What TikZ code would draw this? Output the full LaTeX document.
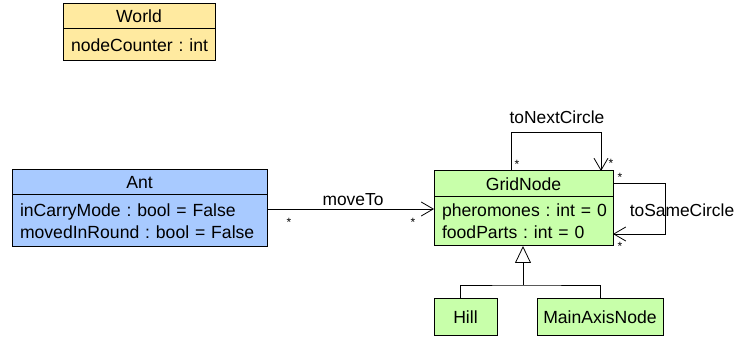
\documentclass[tikz,border=0pt]{standalone}
\usepackage{fontspec}
\setmainfont{Liberation Sans}
\frenchspacing
\usetikzlibrary{arrows.meta}
\definecolor{worldc}{RGB}{255,234,160}
\definecolor{antc}{RGB}{168,202,255}
\definecolor{gridc}{RGB}{200,255,170}
\begin{document}
\frenchspacing
\begin{tikzpicture}[x=1pt,y=-1pt,
  comp/.style={draw, line width=1pt, anchor=north west, inner sep=0pt, outer sep=0pt, font=\fontsize{17.6}{22}\selectfont},
  body/.style={comp, align=left, inner xsep=8pt},
  assoc/.style={line width=0.8pt, -{Straight Barb[length=12pt,width=14pt]}},
  inherit/.style={line width=0.8pt, -{Triangle[open,length=17pt,width=16pt,fill=white]}},
  lbl/.style={font=\fontsize{17.4}{20}\selectfont, inner sep=0pt},
  mult/.style={font=\fontsize{12}{12}\selectfont, inner sep=0pt}]
\useasboundingbox (0,0) rectangle (737,339);
% World
\node[comp, fill=worldc, minimum width=152pt, minimum height=25pt] (wh) at (63,4) {World};
\node[body, fill=worldc, minimum width=152pt, minimum height=32pt, text width=136pt] (wb) at (63,29) {\mbox{nodeCounter : int}};
% Ant
\node[comp, fill=antc, minimum width=255pt, minimum height=25pt] (anth) at (12,170) {Ant};
\node[body, fill=antc, minimum width=255pt, minimum height=52pt, text width=239pt] (antb) at (12,195) {\mbox{inCarryMode : bool = False}\\\mbox{movedInRound : bool = False}};
% GridNode
\node[comp, fill=gridc, minimum width=179pt, minimum height=26pt] (gnh) at (434,171) {GridNode};
\node[body, fill=gridc, minimum width=179pt, minimum height=49pt, text width=163pt] (gnb) at (434,197) {\mbox{pheromones : int = 0}\\\mbox{foodParts : int = 0}};
% Subclasses
\node[comp, fill=gridc, minimum width=63pt, minimum height=37pt] (hill) at (434,299) {Hill};
\node[comp, fill=gridc, minimum width=126pt, minimum height=37pt] (main) at (537,299) {MainAxisNode};
% moveTo
\draw[assoc] ([yshift=-14pt]antb.north east) -- ([yshift=-12pt]gnb.north west);
\node[lbl] (mvl) at (353,200) {moveTo};
\node[mult] (m1) at (289,222) {*};
\node[mult] (m2) at (413,222) {*};
% toNextCircle
\draw[assoc] ([xshift=77pt]gnh.north west) -- ++(0,-39) -| ([xshift=167pt]gnh.north west);
\node[lbl] (tnl) at (557,117) {toNextCircle};
\node[mult] (m3) at (517,164) {*};
\node[mult] (m4) at (611,163) {*};
% toSameCircle
\draw[assoc] ([yshift=-12pt]gnh.north east) -- ++(52,0) |- ([yshift=-37pt]gnb.north east);
\node[lbl] (tsl) at (682,210) {toSameCircle};
\node[mult] (m5) at (620,177) {*};
\node[mult] (m6) at (620,246) {*};
% inheritance
\coordinate (j) at (523,285);
\draw[line width=0.8pt] ([xshift=-5.5pt]hill.north) |- (j) -| (main.north);
\draw[inherit] (j) -- (j |- gnb.south);
\end{tikzpicture}
\end{document}
